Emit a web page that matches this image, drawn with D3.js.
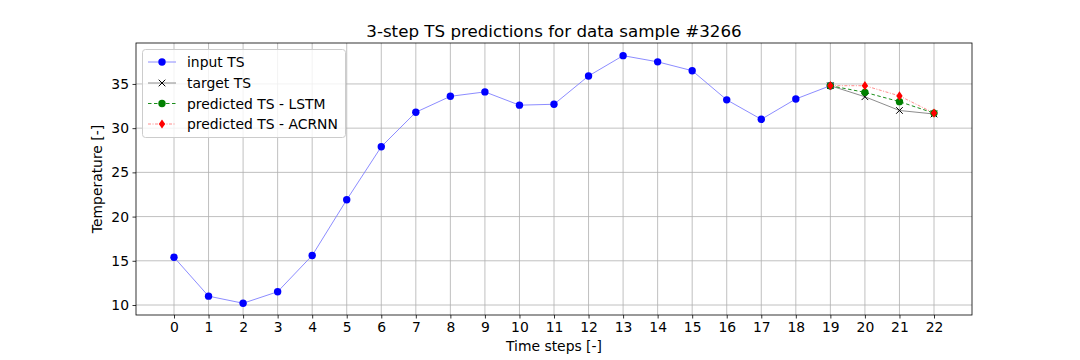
<!DOCTYPE html>
<html><head><meta charset="utf-8">
<script src="https://cdn.jsdelivr.net/npm/d3@7"></script>
<style>body{margin:0;background:#fff}svg{display:block}text{font-family:"DejaVu Sans",sans-serif}</style>
</head><body><svg id="c" width="1080" height="360"></svg>
<script>
const inputSteps = d3.range(0, 20);
const inputValues = [15.4, 11.0, 10.2, 11.5, 15.6, 21.9, 27.9, 31.8, 33.6, 34.1, 32.6, 32.7, 35.9, 38.2, 37.5, 36.5, 33.2, 31.0, 33.3, 34.8];
const predSteps = [19, 20, 21, 22];
const targetValues = [34.8, 33.55, 32.0, 31.6];
const lstmValues = [34.8, 34.05, 33.0, 31.7];
const acrnnValues = [34.8, 34.8, 33.65, 31.7];
const xTicks = d3.range(0, 23);
const yTicks = [10, 15, 20, 25, 30, 35];
const legendLabels = ["input TS", "target TS", "predicted TS - LSTM", "predicted TS - ACRNN"];

const svg = d3.select("#c");
const L = 136, R = 972, T = 43, B = 315;
const x = d3.scaleLinear().domain([-1.1, 23.1]).range([L, R]);
const y = d3.scaleLinear().domain([8.87, 39.63]).range([B, T]);

// grid
const g = svg.append("g");
g.selectAll(".gx").data(xTicks).join("line").attr("x1", d => x(d)).attr("x2", d => x(d))
  .attr("y1", T).attr("y2", B).attr("stroke", "#b0b0b0").attr("stroke-width", 0.8);
g.selectAll(".gy").data(yTicks).join("line").attr("y1", d => y(d)).attr("y2", d => y(d))
  .attr("x1", L).attr("x2", R).attr("stroke", "#b0b0b0").attr("stroke-width", 0.8);

// axes
const xa = svg.append("g").attr("transform", `translate(0,${B})`)
  .call(d3.axisBottom(x).tickValues(xTicks).tickFormat(d3.format("d")).tickSize(3.5).tickPadding(3.5));
const ya = svg.append("g").attr("transform", `translate(${L},0)`)
  .call(d3.axisLeft(y).tickValues(yTicks).tickSize(3.5).tickPadding(3.5));
[xa, ya].forEach(a => {
  a.select(".domain").remove();
  a.selectAll("line").attr("stroke", "#000").attr("stroke-width", 0.8);
  a.selectAll("text").attr("font-size", 13.9).attr("fill", "#000").style("font-family", "DejaVu Sans");
});
svg.append("rect").attr("x", L).attr("y", T).attr("width", R - L).attr("height", B - T)
  .attr("fill", "none").attr("stroke", "#000").attr("stroke-width", 0.8);

const line = d3.line();
const styles = [
  {c: "#7f7fff", w: 0.9, dash: null},
  {c: "#7f7f7f", w: 0.9, dash: null},
  {c: "green", w: 0.9, dash: "3.5,2.5"},
  {c: "#ff7f7f", w: 0.9, dash: "3,1.5,1,1.5"}
];
function series(xs, ys, s) {
  svg.append("path").attr("d", line(xs.map((d, i) => [x(d), y(ys[i])])))
    .attr("fill", "none").attr("stroke", s.c).attr("stroke-width", s.w)
    .attr("stroke-dasharray", s.dash);
}
series(inputSteps, inputValues, styles[0]);
series(predSteps, targetValues, styles[1]);
series(predSteps, lstmValues, styles[2]);
series(predSteps, acrnnValues, styles[3]);

function circles(xs, ys, color) {
  svg.append("g").selectAll("circle").data(xs).join("circle")
    .attr("cx", d => x(d)).attr("cy", (d, i) => y(ys[i])).attr("r", 3.7).attr("fill", color);
}
circles(inputSteps, inputValues, "blue");
function crosses(xs, ys) {
  svg.append("g").selectAll("path").data(xs).join("path")
    .attr("d", (d, i) => { const cx = x(d), cy = y(ys[i]), s = 3.3; return `M${cx-s},${cy-s}L${cx+s},${cy+s}M${cx-s},${cy+s}L${cx+s},${cy-s}`; })
    .attr("stroke", "#000").attr("stroke-width", 1);
}
crosses(predSteps, targetValues);
circles(predSteps, lstmValues, "green");
function diamonds(xs, ys) {
  svg.append("g").selectAll("path").data(xs).join("path")
    .attr("d", (d, i) => { const cx = x(d), cy = y(ys[i]); return `M${cx},${cy-4.6}L${cx+3.2},${cy}L${cx},${cy+4.6}L${cx-3.2},${cy}Z`; })
    .attr("fill", "red");
}
diamonds(predSteps, acrnnValues);

// title & labels
svg.append("text").attr("x", (L + R) / 2).attr("y", 37).attr("text-anchor", "middle")
  .attr("font-size", 16.7).text("3-step TS predictions for data sample #3266");
svg.append("text").attr("x", (L + R) / 2).attr("y", 351).attr("text-anchor", "middle")
  .attr("font-size", 13.9).text("Time steps [-]");
svg.append("text").attr("transform", `translate(102,${(T + B) / 2}) rotate(-90)`).attr("text-anchor", "middle")
  .attr("font-size", 13.9).text("Temperature [-]");

// legend
const lg = svg.append("g");
lg.append("rect").attr("x", 142.5).attr("y", 49.5).attr("width", 203).attr("height", 88).attr("rx", 3)
  .attr("fill", "#fff").attr("fill-opacity", 0.8).attr("stroke", "#ccc").attr("stroke-width", 1);
const ly = [62, 83, 103.5, 124];
const lx1 = 148, lx2 = 176, lm = 162;
legendLabels.forEach((lab, i) => {
  const s = styles[i];
  lg.append("line").attr("x1", lx1).attr("x2", lx2).attr("y1", ly[i]).attr("y2", ly[i])
    .attr("stroke", s.c).attr("stroke-width", s.w).attr("stroke-dasharray", s.dash);
  if (i === 0) lg.append("circle").attr("cx", lm).attr("cy", ly[i]).attr("r", 3.7).attr("fill", "blue");
  if (i === 2) lg.append("circle").attr("cx", lm).attr("cy", ly[i]).attr("r", 3.7).attr("fill", "green");
  if (i === 1) lg.append("path").attr("d", `M${lm-3.3},${ly[i]-3.3}L${lm+3.3},${ly[i]+3.3}M${lm-3.3},${ly[i]+3.3}L${lm+3.3},${ly[i]-3.3}`).attr("stroke", "#000").attr("stroke-width", 1);
  if (i === 3) lg.append("path").attr("d", `M${lm},${ly[i]-4.6}L${lm+3.2},${ly[i]}L${lm},${ly[i]+4.6}L${lm-3.2},${ly[i]}Z`).attr("fill", "red");
  lg.append("text").attr("x", 187).attr("y", ly[i] + 5).attr("font-size", 13.9).text(lab);
});
</script></body></html>
